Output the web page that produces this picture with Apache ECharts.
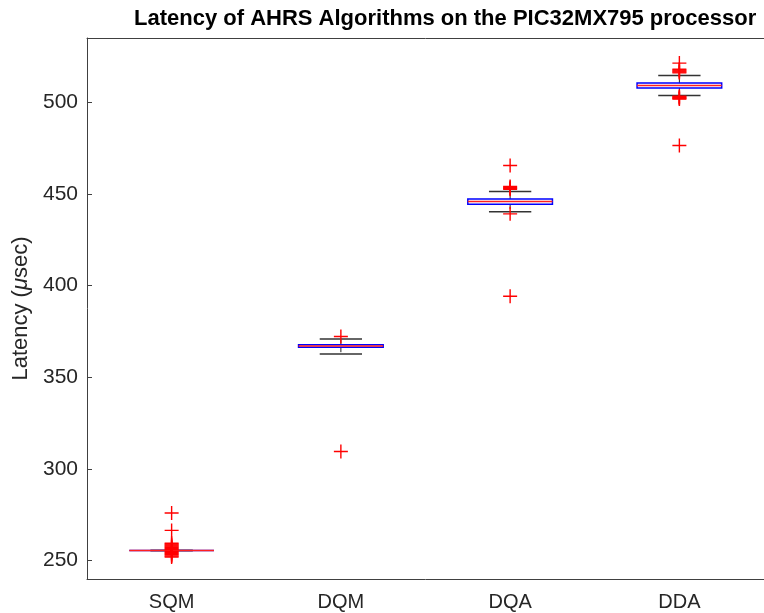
<!DOCTYPE html>
<html>
<head>
<meta charset="utf-8">
<script src="https://cdn.jsdelivr.net/npm/echarts@6/dist/echarts.min.js"></script>
<style>
  html, body { margin: 0; padding: 0; background: #fff; }
  #chart { width: 764px; height: 613px; }
</style>
</head>
<body>
<div id="chart"></div>
<script>
const categories = ['SQM', 'DQM', 'DQA', 'DDA']
// [lower whisker, Q1, median, Q3, upper whisker]
const statsSQM = [255.5, 255.5, 255.5, 255.5, 255.5]
const statsDQM = [362.7, 366.4, 367.1, 367.8, 370.9]
const statsDQA = [440.3, 444.4, 445.8, 447.2, 451.3]
const statsDDA = [503.7, 507.8, 509.1, 510.4, 514.6]
const outliersSQM = [276, 266.5, 252, 252.5, 253, 253.5, 254, 254.5, 255, 256, 256.5, 257, 257.5, 258, 258.5, 259, 259.5]
const outliersDQM = [372.2, 309.5]
const outliersDQA = [465.5, 454, 453.5, 453, 452.5, 439.1, 394.2]
const outliersDDA = [521.3, 518, 517.5, 517, 516.5, 516, 503.2, 502.8, 502.4, 502, 501.7, 476.4]
const yTicks = [250, 300, 350, 400, 450, 500]

const allStats = [statsSQM, statsDQM, statsDQA, statsDDA]
const allOutliers = [outliersSQM, outliersDQM, outliersDQA, outliersDDA]

const boxData = allStats.map((s, i) => [i].concat(s))
const outlierData = []
allOutliers.forEach((list, i) => {
  list.forEach(v => outlierData.push([i, v]))
})

const font = "'Liberation Sans', Arial, Helvetica, sans-serif"
const plusPath = 'path://M6.3,0H7.7V6.3H14V7.7H7.7V14H6.3V7.7H0V6.3H6.3Z'

function renderBox(params, api) {
  const idx = api.value(0)
  const band = api.size([1, 0])[0]
  const half = band * 0.25
  const cap = half / 2
  const lo = api.coord([idx, api.value(1)])
  const q1 = api.coord([idx, api.value(2)])
  const med = api.coord([idx, api.value(3)])
  const q3 = api.coord([idx, api.value(4)])
  const hi = api.coord([idx, api.value(5)])
  const x = med[0]
  const dark = { stroke: '#222', lineWidth: 1, lineDash: [5, 3] }
  const capStyle = { stroke: '#333', lineWidth: 1.5 }
  return {
    type: 'group',
    children: [
      { type: 'line', shape: { x1: x, y1: q3[1], x2: x, y2: hi[1] }, style: dark },
      { type: 'line', shape: { x1: x, y1: q1[1], x2: x, y2: lo[1] }, style: dark },
      { type: 'line', shape: { x1: x - cap, y1: hi[1], x2: x + cap, y2: hi[1] }, style: capStyle },
      { type: 'line', shape: { x1: x - cap, y1: lo[1], x2: x + cap, y2: lo[1] }, style: capStyle },
      { type: 'rect', shape: { x: x - half, y: q3[1], width: half * 2, height: q1[1] - q3[1] },
        style: { fill: 'none', stroke: '#0000ff', lineWidth: 1.5 } },
      { type: 'line', shape: { x1: x - half, y1: med[1], x2: x + half, y2: med[1] },
        style: { stroke: '#ff2020', lineWidth: 1.5 } }
    ]
  }
}

const chart = echarts.init(document.getElementById('chart'))
chart.setOption({
  animation: false,
  backgroundColor: '#ffffff',
  title: {
    text: 'Latency of AHRS Algorithms on the PIC32MX795 processor',
    left: 129,
    top: 3,
    textStyle: { fontFamily: font, fontSize: 22, fontWeight: 'bold', color: '#000' }
  },
  grid: { left: 87, top: 38, width: 683, height: 541 },
  xAxis: [
    {
      type: 'category',
      data: categories,
      boundaryGap: true,
      axisLine: { lineStyle: { color: '#404040', width: 1 } },
      axisTick: { inside: true, alignWithLabel: true, length: 5, lineStyle: { color: '#404040' } },
      axisLabel: { margin: 13, fontFamily: font, fontSize: 20, color: '#262626' },
      splitLine: { show: false }
    },
    {
      type: 'category',
      position: 'top',
      data: categories,
      boundaryGap: true,
      axisLine: { lineStyle: { color: '#404040', width: 1 } },
      axisTick: { inside: true, alignWithLabel: true, length: 5, lineStyle: { color: '#404040' } },
      axisLabel: { show: false },
      splitLine: { show: false }
    }
  ],
  yAxis: {
    type: 'value',
    min: 240,
    max: 535,
    name: 'Latency ({mu|μ}sec)',
    nameLocation: 'middle',
    nameRotate: 90,
    nameGap: 49,
    nameTextStyle: {
      fontFamily: font, fontSize: 22, color: '#262626',
      rich: { mu: { fontFamily: font, fontSize: 22, fontStyle: 'italic', color: '#262626' } }
    },
    axisLine: { show: true, lineStyle: { color: '#404040', width: 1 } },
    axisTick: { show: true, inside: true, length: 5, customValues: yTicks, lineStyle: { color: '#404040' } },
    axisLabel: { margin: 9, fontFamily: font, fontSize: 21, color: '#262626', customValues: yTicks },
    splitLine: { show: false }
  },
  series: [
    {
      type: 'custom',
      renderItem: renderBox,
      encode: { x: 0, y: [1, 2, 3, 4, 5] },
      data: boxData,
      z: 2
    },
    {
      type: 'scatter',
      data: outlierData,
      symbol: plusPath,
      symbolSize: 14,
      itemStyle: { color: '#ff0000', opacity: 1 },
      z: 3
    }
  ]
})
</script>
</body>
</html>
